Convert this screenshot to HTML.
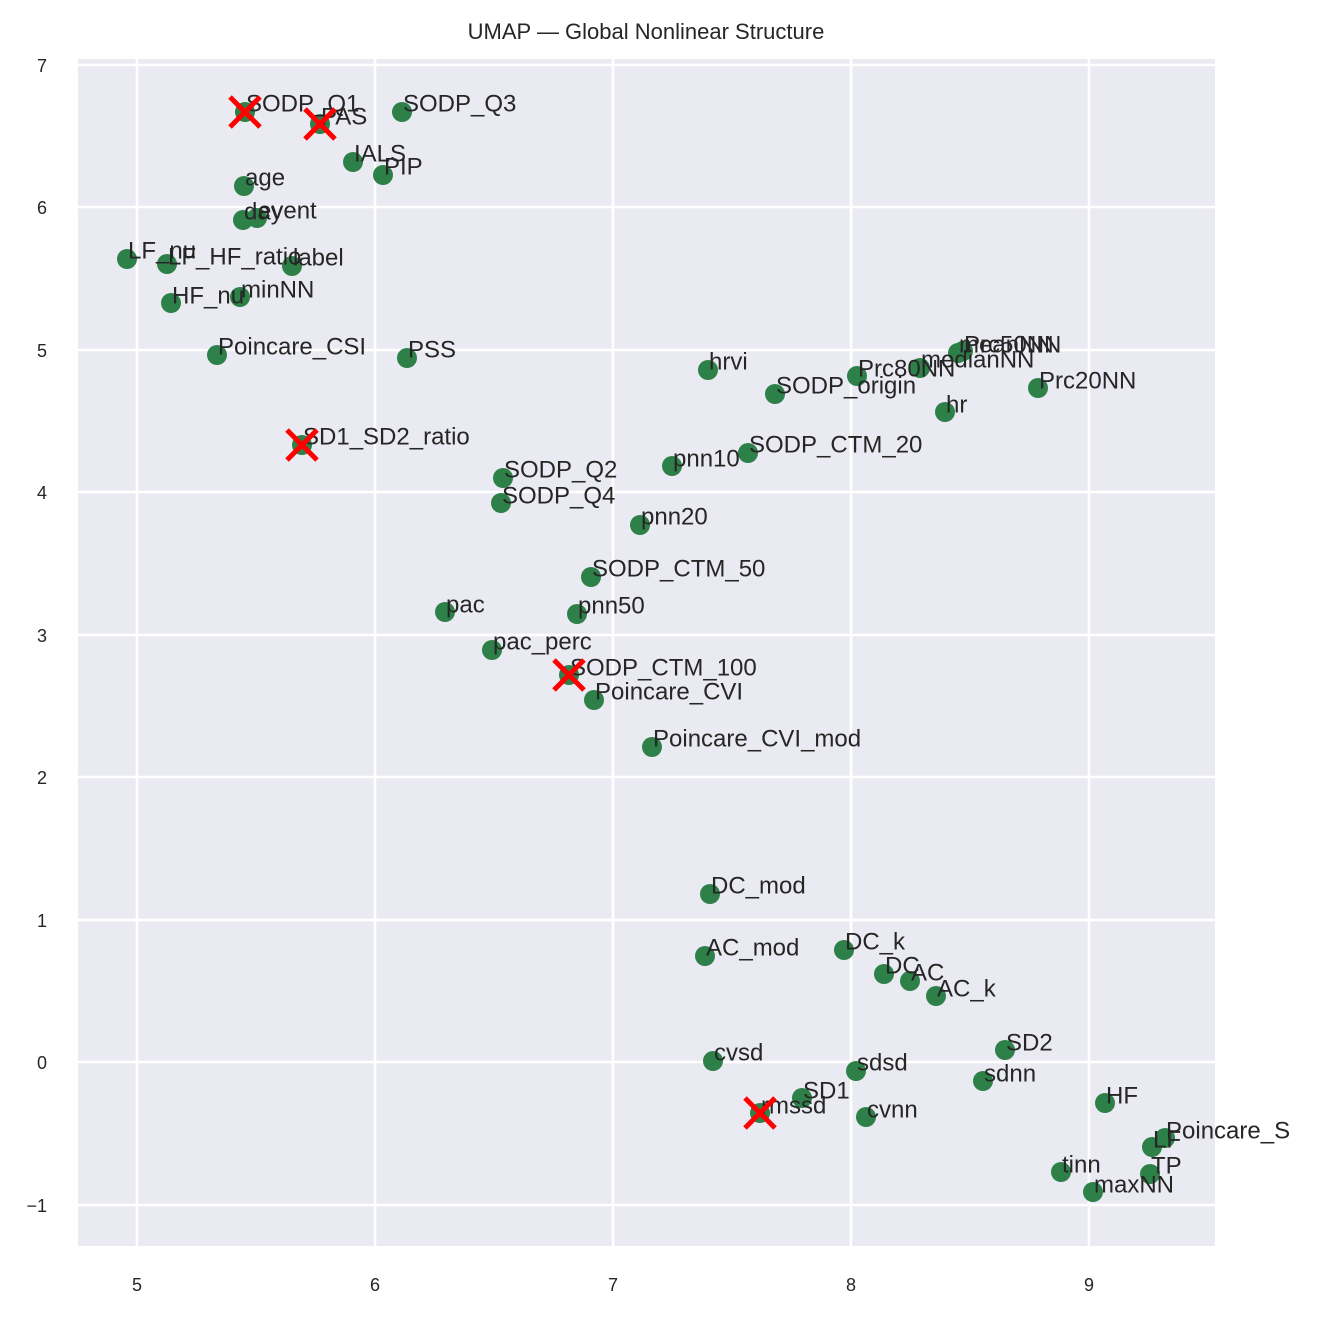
<!DOCTYPE html>
<html><head><meta charset="utf-8"><style>
html,body{margin:0;padding:0;background:#fff;}
svg{display:block;font-family:"Liberation Sans",sans-serif;}
.l{font-size:24px;fill:#262626;}
.t{font-size:18px;fill:#262626;}
</style></head><body>
<svg width="1320" height="1320" viewBox="0 0 1320 1320">
<rect x="78" y="59" width="1137" height="1187" fill="#eaeaf2"/>
<g stroke="#fff" stroke-width="2.5">
<line x1="137" y1="59" x2="137" y2="1246"/><line x1="375" y1="59" x2="375" y2="1246"/><line x1="613" y1="59" x2="613" y2="1246"/><line x1="851" y1="59" x2="851" y2="1246"/><line x1="1089" y1="59" x2="1089" y2="1246"/>
<line x1="78" y1="65" x2="1215" y2="65"/><line x1="78" y1="207" x2="1215" y2="207"/><line x1="78" y1="350" x2="1215" y2="350"/><line x1="78" y1="492" x2="1215" y2="492"/><line x1="78" y1="635" x2="1215" y2="635"/><line x1="78" y1="777" x2="1215" y2="777"/><line x1="78" y1="920" x2="1215" y2="920"/><line x1="78" y1="1062" x2="1215" y2="1062"/><line x1="78" y1="1205" x2="1215" y2="1205"/>
</g>
<text x="646" y="39" text-anchor="middle" style="font-size:22px;fill:#262626">UMAP — Global Nonlinear Structure</text>
<g class="t" text-anchor="middle">
<text x="137" y="1291">5</text><text x="375" y="1291">6</text><text x="613" y="1291">7</text><text x="851" y="1291">8</text><text x="1089" y="1291">9</text>
</g>
<g class="t" text-anchor="end">
<text x="47" y="72">7</text><text x="47" y="214">6</text><text x="47" y="357">5</text><text x="47" y="499">4</text><text x="47" y="642">3</text><text x="47" y="784">2</text><text x="47" y="927">1</text><text x="47" y="1069">0</text><text x="47" y="1212">−1</text>
</g>
<g fill="#2e8049">
<circle cx="245" cy="112" r="10"/><circle cx="320" cy="124" r="10"/><circle cx="402" cy="112" r="10"/><circle cx="353" cy="162" r="10"/><circle cx="383" cy="175" r="10"/><circle cx="244" cy="186" r="10"/><circle cx="243" cy="220" r="10"/><circle cx="257" cy="218" r="10"/><circle cx="127" cy="259" r="10"/><circle cx="167" cy="264" r="10"/><circle cx="292" cy="266" r="10"/><circle cx="171" cy="303" r="10"/><circle cx="240" cy="297" r="10"/><circle cx="217" cy="355" r="10"/><circle cx="407" cy="358" r="10"/><circle cx="302" cy="445" r="10"/><circle cx="708" cy="370" r="10"/><circle cx="775" cy="394" r="10"/><circle cx="857" cy="376" r="10"/><circle cx="920" cy="368" r="10"/><circle cx="958" cy="353" r="10"/><circle cx="963" cy="351" r="10"/><circle cx="1038" cy="388" r="10"/><circle cx="945" cy="412" r="10"/><circle cx="748" cy="453" r="10"/><circle cx="672" cy="466" r="10"/><circle cx="503" cy="478" r="10"/><circle cx="501" cy="503" r="10"/><circle cx="640" cy="525" r="10"/><circle cx="591" cy="577" r="10"/><circle cx="445" cy="612" r="10"/><circle cx="577" cy="614" r="10"/><circle cx="492" cy="650" r="10"/><circle cx="569" cy="675" r="10"/><circle cx="594" cy="700" r="10"/><circle cx="652" cy="747" r="10"/><circle cx="710" cy="894" r="10"/><circle cx="705" cy="956" r="10"/><circle cx="844" cy="950" r="10"/><circle cx="884" cy="974" r="10"/><circle cx="910" cy="981" r="10"/><circle cx="936" cy="996" r="10"/><circle cx="713" cy="1061" r="10"/><circle cx="1005" cy="1050" r="10"/><circle cx="856" cy="1071" r="10"/><circle cx="983" cy="1081" r="10"/><circle cx="802" cy="1098" r="10"/><circle cx="760" cy="1113" r="10"/><circle cx="866" cy="1117" r="10"/><circle cx="1105" cy="1103" r="10"/><circle cx="1165" cy="1138" r="10"/><circle cx="1152" cy="1147" r="10"/><circle cx="1061" cy="1172" r="10"/><circle cx="1150" cy="1174" r="10"/><circle cx="1093" cy="1192" r="10"/>
</g>
<g class="l" dominant-baseline="central">
<text x="246" y="104">SODP_Q1</text><text x="321" y="117">PAS</text><text x="403" y="104">SODP_Q3</text><text x="354" y="154">IALS</text><text x="384" y="167">PIP</text><text x="245" y="178">age</text><text x="244" y="212">day</text><text x="258" y="211">event</text><text x="128" y="251">LF_nu</text><text x="168" y="257">LF_HF_ratio</text><text x="293" y="258">label</text><text x="172" y="296">HF_nu</text><text x="241" y="290">minNN</text><text x="218" y="347">Poincare_CSI</text><text x="408" y="350">PSS</text><text x="303" y="437">SD1_SD2_ratio</text><text x="709" y="362">hrvi</text><text x="776" y="386">SODP_origin</text><text x="858" y="369">Prc80NN</text><text x="921" y="360">medianNN</text><text x="959" y="345">meanNN</text><text x="964" y="345">Prc50NN</text><text x="1039" y="381">Prc20NN</text><text x="946" y="405">hr</text><text x="749" y="445">SODP_CTM_20</text><text x="673" y="459">pnn10</text><text x="504" y="470">SODP_Q2</text><text x="502" y="496">SODP_Q4</text><text x="641" y="517">pnn20</text><text x="592" y="569">SODP_CTM_50</text><text x="446" y="605">pac</text><text x="578" y="606">pnn50</text><text x="493" y="642">pac_perc</text><text x="570" y="668">SODP_CTM_100</text><text x="595" y="692">Poincare_CVI</text><text x="653" y="739">Poincare_CVI_mod</text><text x="711" y="886">DC_mod</text><text x="706" y="948">AC_mod</text><text x="845" y="942">DC_k</text><text x="885" y="966">DC</text><text x="911" y="973">AC</text><text x="937" y="989">AC_k</text><text x="714" y="1053">cvsd</text><text x="1006" y="1043">SD2</text><text x="857" y="1063">sdsd</text><text x="984" y="1074">sdnn</text><text x="803" y="1091">SD1</text><text x="761" y="1106">rmssd</text><text x="867" y="1110">cvnn</text><text x="1106" y="1096">HF</text><text x="1166" y="1131">Poincare_S</text><text x="1153" y="1140">LF</text><text x="1062" y="1165">tinn</text><text x="1151" y="1166">TP</text><text x="1094" y="1185">maxNN</text>
</g>
<g stroke="#ff0000" stroke-width="5">
<path d="M230 97L260 127M260 97L230 127"/><path d="M305 109L335 139M335 109L305 139"/><path d="M287 430L317 460M317 430L287 460"/><path d="M554 660L584 690M584 660L554 690"/><path d="M745 1098L775 1128M775 1098L745 1128"/>
</g>
</svg>
</body></html>
